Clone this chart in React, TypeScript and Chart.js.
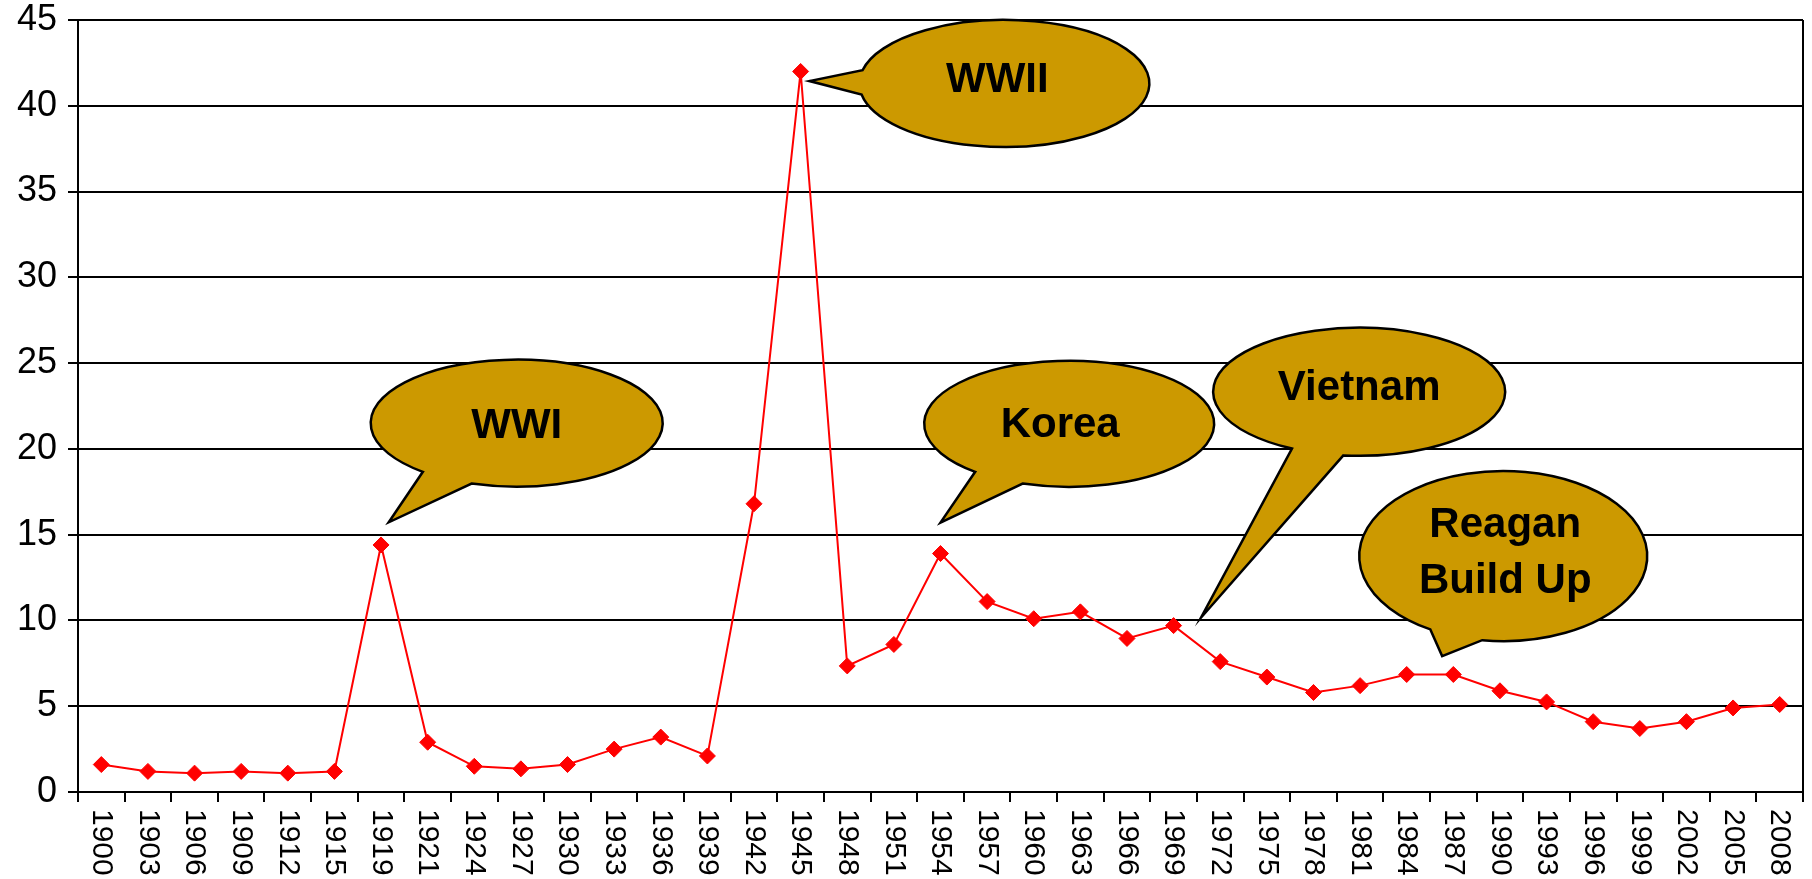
import React, { useEffect, useRef } from "react";
import { Chart, registerables } from "chart.js";

Chart.register(...registerables);

const years = [
  "1900", "1903", "1906", "1909", "1912", "1915", "1919", "1921", "1924", "1927",
  "1930", "1933", "1936", "1939", "1942", "1945", "1948", "1951", "1954", "1957",
  "1960", "1963", "1966", "1969", "1972", "1975", "1978", "1981", "1984", "1987",
  "1990", "1993", "1996", "1999", "2002", "2005", "2008",
];

const values = [
  1.6, 1.2, 1.1, 1.2, 1.1, 1.2, 14.4, 2.9, 1.5, 1.35,
  1.6, 2.5, 3.2, 2.1, 16.8, 42.0, 7.35, 8.6, 13.9, 11.1,
  10.1, 10.5, 8.95, 9.7, 7.6, 6.7, 5.8, 6.2, 6.85, 6.85,
  5.9, 5.25, 4.1, 3.7, 4.1, 4.9, 5.1,
];

const yTicks = [0, 5, 10, 15, 20, 25, 30, 35, 40, 45];

const calloutTexts = [["WWI"], ["WWII"], ["Korea"], ["Vietnam"], ["Reagan", "Build Up"]];

// Callout geometry: centre and tail tip in data coordinates (category index, value)
const calloutGeometry = [
  { cx: 8.91, cy: 21.5, rx: 146, ry: 63.5, tipX: 6.165, tipY: 15.72, a1: 108, a2: 130, baselines: [15], dx: 0 },
  { cx: 19.37, cy: 41.3, rx: 145, ry: 63.5, tipX: 15.19, tipY: 41.44, a1: 170, a2: 192, baselines: [9], dx: -7 },
  { cx: 20.76, cy: 21.46, rx: 145, ry: 63, tipX: 18.0, tipY: 15.7, a1: 108.7, a2: 130.4, baselines: [12.7], dx: -9 },
  { cx: 26.98, cy: 23.33, rx: 146, ry: 64, tipX: 23.59, tipY: 10.17, a1: 96.2, a2: 117.4, baselines: [8], dx: 0 },
  { cx: 30.07, cy: 13.75, rx: 144, ry: 85, tipX: 28.76, tipY: 7.92, a1: 98.4, a2: 120.4, baselines: [-19.3, 36.7], dx: 2 },
];

const FONT = '"Liberation Sans", Arial, sans-serif';

const extrasPlugin = {
  id: "extras",
  beforeDatasetsDraw(chart: any) {
    const { ctx, chartArea } = chart;
    ctx.save();
    ctx.strokeStyle = "#000";
    ctx.lineWidth = 2;
    ctx.beginPath();
    ctx.moveTo(Math.round(chartArea.right), chartArea.top);
    ctx.lineTo(Math.round(chartArea.right), chartArea.bottom);
    ctx.stroke();
    ctx.restore();
  },
  afterDraw(chart: any) {
    const { ctx } = chart;
    const xs = chart.scales.x;
    const ys = chart.scales.y;
    // x tick labels, rotated to read top-to-bottom
    ctx.save();
    ctx.font = `30px ${FONT}`;
    ctx.fillStyle = "#000";
    ctx.textAlign = "left";
    ctx.textBaseline = "middle";
    years.forEach((yr, i) => {
      const px = xs.getPixelForValue(i);
      ctx.save();
      ctx.translate(px, xs.top + 17);
      ctx.rotate(Math.PI / 2);
      ctx.fillText(yr, 0, 0);
      ctx.restore();
    });
    ctx.restore();

    // callouts
    calloutGeometry.forEach((g, k) => {
      const cx = xs.getPixelForValue(g.cx);
      const cy = ys.getPixelForValue(g.cy);
      const tx = xs.getPixelForValue(g.tipX);
      const ty = ys.getPixelForValue(g.tipY);
      ctx.save();
      ctx.beginPath();
      ctx.ellipse(cx, cy, g.rx, g.ry, 0, (g.a2 * Math.PI) / 180, (g.a1 * Math.PI) / 180, false);
      ctx.lineTo(tx, ty);
      ctx.closePath();
      ctx.fillStyle = "#CC9900";
      ctx.fill();
      ctx.lineWidth = 2.5;
      ctx.strokeStyle = "#000";
      ctx.lineJoin = "miter";
      ctx.stroke();
      ctx.font = `bold 42px ${FONT}`;
      ctx.fillStyle = "#000";
      ctx.textAlign = "center";
      ctx.textBaseline = "alphabetic";
      calloutTexts[k].forEach((line, j) => {
        ctx.fillText(line, cx + g.dx, cy + g.baselines[j]);
      });
      ctx.restore();
    });
  },
};

export default function App() {
  const canvasRef = useRef<HTMLCanvasElement | null>(null);

  useEffect(() => {
    if (!canvasRef.current) return;
    const chart = new Chart(canvasRef.current, {
      type: "line",
      data: {
        labels: years,
        datasets: [
          {
            data: values,
            borderColor: "#FF0000",
            backgroundColor: "#FF0000",
            borderWidth: 2,
            tension: 0,
            pointStyle: "rectRot",
            pointRadius: 8,
            pointBorderWidth: 1,
            pointBackgroundColor: "#FF0000",
            pointBorderColor: "#FF0000",
          },
        ],
      },
      options: {
        animation: false,
        responsive: false,
        maintainAspectRatio: false,
        layout: { padding: { top: 20, right: 9, left: 0, bottom: 0 } },
        plugins: {
          legend: { display: false },
          tooltip: { enabled: false },
        },
        scales: {
          x: {
            type: "category",
            offset: true,
            grid: {
              offset: true,
              drawOnChartArea: false,
              drawTicks: true,
              tickLength: 10,
              color: "#000",
              lineWidth: 2,
            },
            border: { display: true, color: "#000", width: 2 },
            ticks: { display: false },
            afterFit: (s: any) => {
              s.height = 87;
              s.paddingLeft = 0;
              s.paddingRight = 0;
            },
          },
          y: {
            min: 0,
            max: 45,
            afterBuildTicks: (s: any) => {
              s.ticks = yTicks.map((v) => ({ value: v }));
            },
            ticks: {
              font: { family: FONT, size: 36 },
              color: "#000",
              padding: 11,
            },
            grid: { color: "#000", lineWidth: 2, tickLength: 10, drawTicks: true },
            border: { display: true, color: "#000", width: 2 },
            afterFit: (s: any) => {
              s.width = 78;
              s.paddingTop = 0;
              s.paddingBottom = 0;
            },
          },
        },
      },
      plugins: [extrasPlugin],
    } as any);
    return () => chart.destroy();
  }, []);

  return (
    <div style={{ position: "fixed", left: 0, top: 0, width: 1812, height: 879, background: "#fff" }}>
      <canvas ref={canvasRef} width={1812} height={879} style={{ display: "block", width: 1812, height: 879 }} />
    </div>
  );
}
